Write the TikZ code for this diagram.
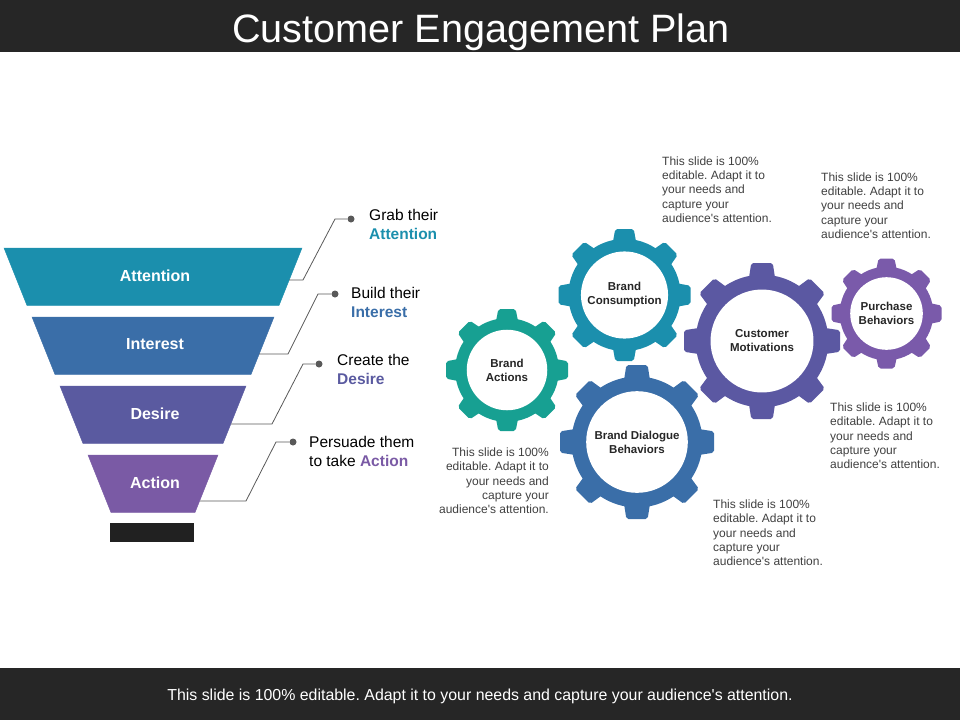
\documentclass[tikz,border=0pt]{standalone}
\usepackage{fontspec}
\setmainfont{Liberation Sans}[Ligatures=TeXOff]
\usepackage{tikz}
\frenchspacing

\definecolor{barcol}{HTML}{262626}
\definecolor{attcol}{HTML}{1B8FAD}
\definecolor{intcol}{HTML}{3A6EA8}
\definecolor{descol}{HTML}{5A5AA0}
\definecolor{actcol}{HTML}{7A5AA5}
\definecolor{bacol}{HTML}{17A092}
\definecolor{motcol}{HTML}{5B58A2}
\definecolor{purcol}{HTML}{7A5AAA}
\definecolor{linecol}{HTML}{595959}
\definecolor{notecol}{HTML}{404040}

\begin{document}
\begin{tikzpicture}[x=1pt,y=-1pt,
  layerlabel/.style={text=white,font=\fontsize{16}{19}\selectfont\bfseries},
  steplabel/.style={anchor=west,align=left,inner sep=0pt,font=\fontsize{15.5}{19}\selectfont},
  gearlabel/.style={align=center,inner sep=0pt,text=black!85,font=\fontsize{11.5}{14}\selectfont\bfseries},
  note/.style={inner sep=0pt,text=notecol,font=\fontsize{12}{14.3}\selectfont},
  dot/.style={circle,fill=linecol,inner sep=0pt,minimum size=7pt}]
\path[use as bounding box] (0,0) rectangle (960,720);

\fill[barcol] (0,0) rectangle (960,52);
\fill[barcol] (0,668) rectangle (960,720);
\node[anchor=base,text=white,font=\fontsize{39.6}{48}\selectfont] (title) at (481,42) {Customer Engagement Plan};
\node[anchor=base,text=white,font=\fontsize{15.9}{19}\selectfont] (footer) at (480,700) {This slide is 100\% editable. Adapt it to your needs and capture your audience's attention.};

\foreach \i/\lab/\col in {0/Attention/attcol, 1/Interest/intcol, 2/Desire/descol, 3/Action/actcol}
{
  \pgfmathsetmacro{\ytop}{248+69*\i}
  \pgfmathsetmacro{\wtop}{149-28*\i}
  \pgfmathsetmacro{\wbot}{126-28*\i}
  \filldraw[fill=\col,draw=\col] (153-\wtop,\ytop) -- (153+\wtop,\ytop) -- (153+\wbot,\ytop+57.5) -- (153-\wbot,\ytop+57.5) -- cycle;
  \node[layerlabel] (\lab) at (155,\ytop+27.5) {\lab};
}
\fill[black!87] (110,523) rectangle (194,542);

\foreach \i/\xa/\ya/\xb/\xc/\yc/\xd in {0/289/280/303/335/219/351, 1/259/354/288/318/294/335, 2/231/424/272/303/364/319, 3/200/501/246/276/442/293}
{
  \coordinate (s\i) at (\xa,\ya);
  \coordinate (k\i) at (\xb,\ya);
  \coordinate (t\i) at (\xc,\yc);
  \node[dot] (d\i) at (\xd,\yc) {};
  \draw[linecol,line width=0.8pt] (s\i) -- (k\i) -- (t\i) -- (d\i);
}

\node[steplabel] (grab) at (369,224.4) {Grab their\\\textcolor{attcol}{\textbf{Attention}}};
\node[steplabel] (build) at (351,302.4) {Build their\\\textcolor{intcol}{\textbf{Interest}}};
\node[steplabel] (create) at (337,369.4) {Create the\\\textcolor{descol}{\textbf{Desire}}};
\node[steplabel] (persuade) at (309,451.4) {Persuade them\\to take \textcolor{actcol}{\textbf{Action}}};

\foreach \gx/\gy/\gr/\gc/\gn/\gt in {507/370/61/bacol/actions/{Brand\\Actions}, 624.5/295/66/attcol/consumption/{Brand\\Consumption}, 637/442/77/intcol/dialogue/{Brand Dialogue\\Behaviors}, 762/341/78/motcol/motivations/{Customer\\Motivations}, 886.5/313.5/55/purcol/purchase/{Purchase\\Behaviors}}
{
  \fill[\gc] (\gx,\gy) circle [radius=0.85*\gr pt];
  \foreach \a in {0,45,...,315}
    \fill[\gc,rounded corners=2pt,shift={(\gx,\gy)},rotate=\a] (-0.125*\gr-4,0.75*\gr) -- (-0.125*\gr-1,\gr) -- (0.125*\gr+1,\gr) -- (0.125*\gr+4,0.75*\gr) -- cycle;
  \fill[white] (\gx,\gy) circle [radius=0.66*\gr pt];
  \node[gearlabel] (\gn) at (\gx,\gy) {\gt};
}

\node[note,anchor=north west,align=left] (note1) at (662,156.5) {This slide is 100\%\\editable. Adapt it to\\your needs and\\capture your\\audience's attention.};
\node[note,anchor=north west,align=left] (note2) at (821,172.5) {This slide is 100\%\\editable. Adapt it to\\your needs and\\capture your\\audience's attention.};
\node[note,anchor=north west,align=left] (note3) at (830,402.5) {This slide is 100\%\\editable. Adapt it to\\your needs and\\capture your\\audience's attention.};
\node[note,anchor=north west,align=left] (note4) at (713,499.5) {This slide is 100\%\\editable. Adapt it to\\your needs and\\capture your\\audience's attention.};
\node[note,anchor=north east,align=right] (note5) at (549,447.5) {This slide is 100\%\\editable. Adapt it to\\your needs and\\capture your\\audience's attention.};

\end{tikzpicture}
\end{document}
